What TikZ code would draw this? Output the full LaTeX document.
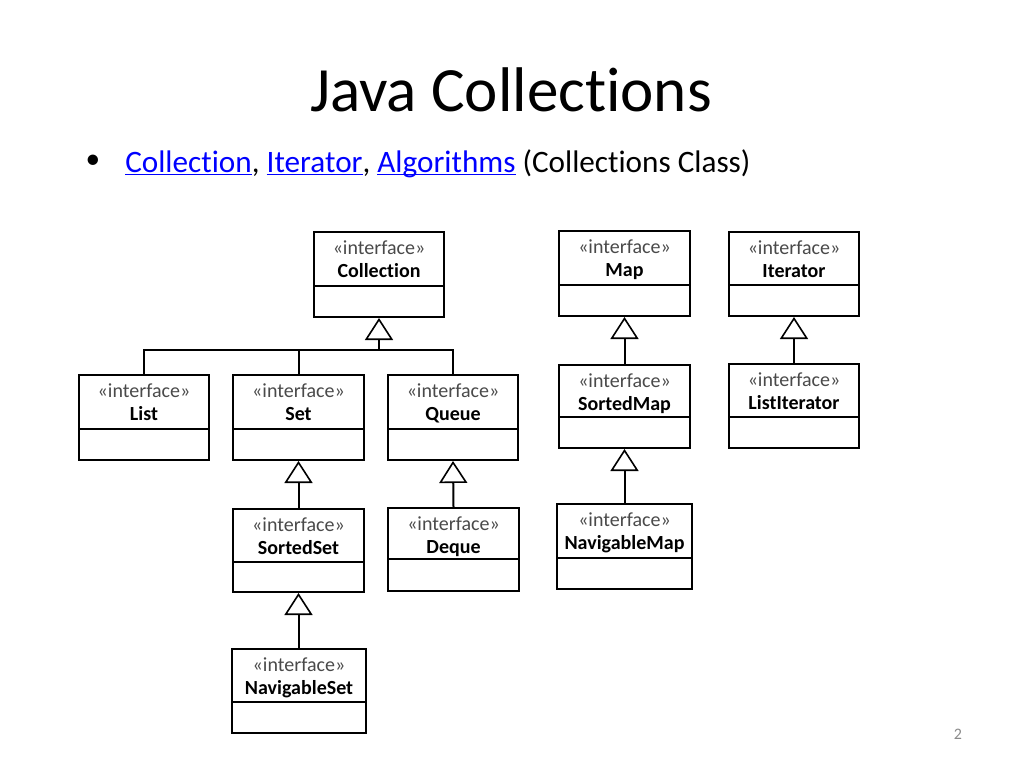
\documentclass[tikz,border=0pt]{standalone}
\usepackage{fontspec}
\setmainfont{Carlito}[Ligatures={NoCommon,NoRare}]
\usetikzlibrary{arrows.meta}
\definecolor{linkblue}{HTML}{0000FF}
\definecolor{stereogray}{HTML}{4A4A4A}
\definecolor{pagegray}{HTML}{8A8A8A}
\tikzset{
  umlbox/.style={draw, line width=1.5pt, rectangle, inner sep=0pt, fill=white},
  umlline/.style={line width=1.5pt},
  stereo/.style={anchor=base, inner sep=0pt, text=stereogray, font=\fontsize{15}{17}\selectfont},
  cname/.style={anchor=base, inner sep=0pt, text=black, font=\fontsize{15}{17}\selectfont\bfseries},
  inh/.style={line width=1.5pt, -{Triangle[open, width=21pt, length=16.5pt, line width=1.2pt]}},
  conn/.style={line width=1.5pt}
}
\newcommand\lnk[1]{\textcolor{linkblue}{\underline{\smash{#1}}}}
\newcommand\umlbox[7]{%
  \node[umlbox, minimum width={(#4-#2)*0.75pt}, minimum height={(#6-#3)*0.75pt}] (#1) at ({(#2+#4)/2},{(#3+#6)/2}) {};
  \draw[umlline] (#1.west |- 0,#5) -- (#1.east |- 0,#5);
  \node[stereo] (#1-s) at ({(#2+#4)/2},{#3+22.5}) {«interface»};
  \node[cname] (#1-n) at ({(#2+#4)/2},{#3+45}) {#7};
}
\begin{document}
\begin{tikzpicture}[x=0.75pt,y=-0.75pt]
\useasboundingbox[fill=white] (0,0) rectangle (1024,768);

% title and bullet
\node[anchor=base, inner sep=0pt, font=\fontsize{47.3}{54}\selectfont] (title) at (511,111) {Java Collections};
\node[inner sep=0pt, font=\fontsize{22}{26}\selectfont] (bullet) at (93,162) {•};
\node[anchor=base west, inner sep=0pt, font=\fontsize{23.4}{28}\selectfont] (line1) at (125,172)
  {\lnk{Collection}, \lnk{Iterator}, \lnk{Algorithms} (Collections Class)};

% boxes
\umlbox{coll}{314}{232}{444}{286}{317}{Collection}
\umlbox{list}{79}{375}{209}{429}{460}{List}
\umlbox{set}{233}{375}{364}{429}{460}{Set}
\umlbox{queue}{388}{375}{518}{429}{460}{Queue}
\umlbox{sset}{233}{509}{364}{562}{592}{SortedSet}
\umlbox{deque}{388}{508}{519}{559}{591}{Deque}
\umlbox{nset}{232}{649}{366}{702}{733}{NavigableSet}
\umlbox{map}{559}{231}{690}{285}{316}{Map}
\umlbox{smap}{559}{365}{690}{417}{448}{SortedMap}
\umlbox{nmap}{557}{504}{692}{558}{589}{NavigableMap}
\umlbox{iter}{729}{232}{859}{285}{316}{Iterator}
\umlbox{liter}{729}{364}{859}{417}{448}{ListIterator}

% Collection hierarchy
\coordinate (hub) at (379,350);
\draw[inh] (hub) -- (coll.south);
\draw[conn] (list.north) |- (hub);
\draw[conn] (hub) -| (queue.north);
\draw[conn] (set.north) -- (set.north |- hub);

\draw[inh] (sset.north) -- (set.south);
\draw[inh] (nset.north -| sset.south) -- (sset.south);
\draw[inh] (deque.north) -- (queue.south);

\draw[inh] (smap.north) -- (map.south);
\draw[inh] (nmap.north -| smap.south) -- (smap.south);
\draw[inh] (liter.north) -- (iter.south);

% page number
\node[anchor=base, inner sep=0pt, text=pagegray, font=\fontsize{12}{14}\selectfont] (pnum) at (958,739) {2};
\end{tikzpicture}
\end{document}
